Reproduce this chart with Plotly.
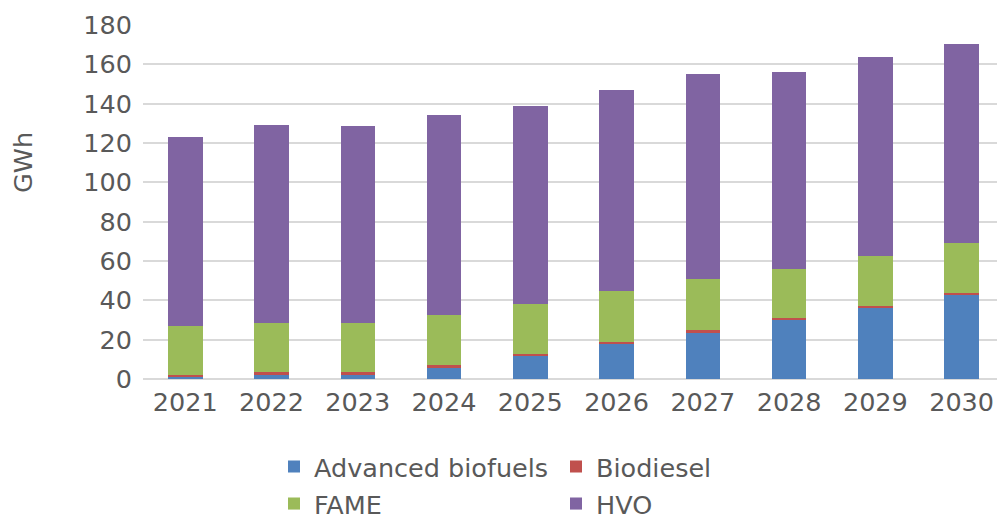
import plotly.graph_objects as go

years = ["2021", "2022", "2023", "2024", "2025", "2026", "2027", "2028", "2029", "2030"]
advanced_biofuels = [0.9, 2.2, 2.2, 5.8, 11.6, 17.6, 23.5, 29.8, 36.1, 42.5]
biodiesel = [1.3, 1.2, 1.2, 1.2, 1.1, 1.2, 1.2, 1.2, 1.2, 1.1]
fame = [24.5, 25.3, 25.3, 25.6, 25.3, 25.9, 26.1, 25.1, 25.4, 25.4]
hvo = [96.5, 100.3, 99.9, 101.4, 100.9, 102.3, 104.2, 100.2, 100.8, 101.3]
y_ticks = [0, 20, 40, 60, 80, 100, 120, 140, 160, 180]

FONT = "DejaVu Sans"
TXT = "#595959"
FS = 25.5

series = [
    ("Advanced biofuels", advanced_biofuels, "#4F81BD", "legend"),
    ("Biodiesel", biodiesel, "#C0504D", "legend"),
    ("FAME", fame, "#9BBB59", "legend2"),
    ("HVO", hvo, "#8064A2", "legend2"),
]

fig = go.Figure()
for name, vals, col, lg in series:
    fig.add_trace(go.Bar(
        x=years, y=vals, name=name, marker_color=col,
        marker_line_width=0, width=0.40, legend=lg,
    ))

W, H = 997, 518
L, T, R, B = 143, 25, 0, 139
pw = W - L - R
ph = H - T - B

def px_x(x):
    return (x - L) / pw

def px_y(y):
    return (H - B - y) / ph

legend_common = dict(
    orientation="h", xanchor="left", yanchor="middle",
    font=dict(family=FONT, size=FS, color=TXT),
    entrywidthmode="pixels", entrywidth=237,
    bgcolor="rgba(0,0,0,0)", borderwidth=0,
    traceorder="normal", itemclick=False,
)

fig.update_layout(
    width=W, height=H,
    margin=dict(l=L, r=R, t=T, b=B, pad=0, autoexpand=False),
    paper_bgcolor="white", plot_bgcolor="white",
    barmode="stack",
    font=dict(family=FONT, size=FS, color=TXT),
    showlegend=True,
    legend=dict(x=px_x(274), y=px_y(467), **legend_common),
    legend2=dict(x=px_x(274), y=px_y(504), **legend_common),
    xaxis=dict(
        type="category", range=[-0.49, 9.41],
        showgrid=False, showline=False, zeroline=False,
        ticks="", ticklabelstandoff=5,
        tickfont=dict(family=FONT, size=FS, color=TXT),
    ),
    yaxis=dict(
        range=[0, 180], tickvals=y_ticks,
        showgrid=True, gridcolor="#D9D9D9", gridwidth=2,
        zeroline=True, zerolinecolor="#D9D9D9", zerolinewidth=2,
        showline=False, ticks="", ticklabelstandoff=10,
        tickfont=dict(family=FONT, size=FS, color=TXT),
    ),
    annotations=[dict(
        text="GWh", textangle=-90, xref="paper", yref="paper",
        x=px_x(23), y=px_y(163), xanchor="center", yanchor="middle",
        showarrow=False, font=dict(family=FONT, size=FS, color=TXT),
    )],
)

# remove the default 8px page margin so the figure fills the window exactly
fig.write_html(
    "out.html",
    config={"displayModeBar": False},
    post_script="document.body.style.margin='0';document.body.style.overflow='hidden';",
)
